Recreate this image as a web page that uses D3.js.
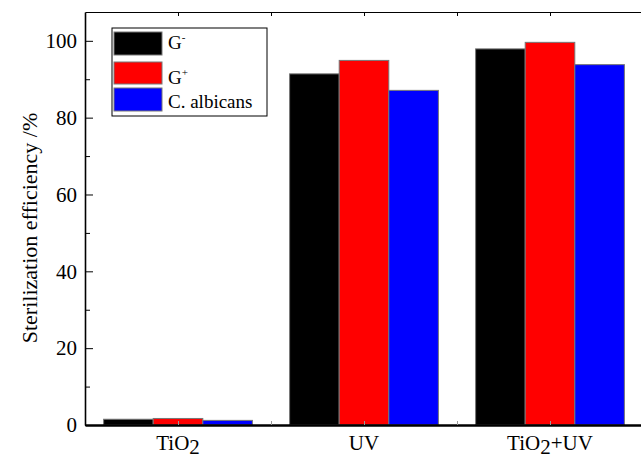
<!DOCTYPE html>
<html>
<head>
<meta charset="utf-8">
<script src="https://cdn.jsdelivr.net/npm/d3@7"></script>
</head>
<body style="margin:0">
<svg id="chart" width="641" height="455"></svg>
<script>
// categories and series
var categories = ["TiO2", "UV", "TiO2+UV"];
var seriesNames = ["G-", "G+", "C. albicans"];
var seriesColors = ["#000000", "#ff0000", "#0000ff"];
// values (%)
var gNeg = [1.5, 91.4, 97.9];
var gPos = [1.7, 94.9, 99.6];
var cAlb = [1.2, 87.1, 93.8];
var yTicks = [0, 20, 40, 60, 80, 100];
var yMinor = [10, 30, 50, 70, 90];

var serif = "Liberation Serif";
var svg = d3.select("#chart");

// scales
var x = d3.scaleLinear().domain([0.5, 3.5]).range([85, 643]);
var y = d3.scaleLinear().domain([0, 107.5]).range([425, 12]);

var groupW = 0.8;
var barW = groupW / 3;
var seriesData = [gNeg, gPos, cAlb];

// bars
seriesData.forEach(function(vals, j) {
  svg.append("g")
    .selectAll("rect")
    .data(vals)
    .enter()
    .append("rect")
    .attr("x", function(d, i) { return x(i + 1 - groupW / 2 + j * barW); })
    .attr("y", function(d) { return y(d); })
    .attr("width", x(barW) - x(0))
    .attr("height", function(d) { return y(0) - y(d); })
    .attr("fill", seriesColors[j])
    .attr("stroke", "#777")
    .attr("stroke-width", 1);
});

// left axis
var yAxis = d3.axisLeft(y)
  .tickValues(yTicks)
  .tickSizeInner(-8)
  .tickSizeOuter(0)
  .tickPadding(8)
  .tickFormat(d3.format("d"));
var gy = svg.append("g")
  .attr("transform", "translate(" + x(0.5) + ",0)")
  .call(yAxis);
gy.select(".domain").attr("stroke-width", 1.6);
gy.selectAll("text")
  .attr("font-family", serif)
  .attr("font-size", 21)
  .attr("fill", "#000");

var yAxisMinor = d3.axisLeft(y)
  .tickValues(yMinor)
  .tickSizeInner(-5)
  .tickSizeOuter(0)
  .tickFormat("");
svg.append("g")
  .attr("transform", "translate(" + x(0.5) + ",0)")
  .call(yAxisMinor)
  .select(".domain").remove();

// bottom axis
var xTickVals = [1, 1.5, 2, 2.5, 3, 3.5];
var xAxisB = d3.axisBottom(x)
  .tickValues(xTickVals)
  .tickSizeInner(-4)
  .tickSizeOuter(0)
  .tickFormat("");
var gx = svg.append("g")
  .attr("transform", "translate(0," + y(0) + ")")
  .call(xAxisB);
gx.select(".domain").attr("stroke-width", 2.5);
gx.selectAll(".tick line").attr("stroke", "#999");

// top axis
var xAxisT = d3.axisTop(x)
  .tickValues(xTickVals)
  .tickSizeInner(-4)
  .tickSizeOuter(0)
  .tickFormat("");
var gt = svg.append("g")
  .attr("transform", "translate(0," + y(107.5) + ")")
  .call(xAxisT);
gt.select(".domain").attr("stroke-width", 1.2);

// category labels with subscripts
categories.forEach(function(c, i) {
  var t = svg.append("text")
    .attr("x", x(i + 1))
    .attr("y", 450)
    .attr("text-anchor", "middle")
    .attr("font-family", serif)
    .attr("font-size", 21);
  var parts = c.split("2");
  if (parts.length > 1) {
    t.append("tspan").text(parts[0]);
    t.append("tspan").attr("dy", 4).text("2");
    t.append("tspan").attr("dy", -4).text(parts[1]);
  }
  else {
    t.text(c);
  }
});

// y title
svg.append("text")
  .attr("transform", "translate(37,228) rotate(-90)")
  .attr("text-anchor", "middle")
  .attr("font-family", serif)
  .attr("font-size", 22)
  .text("Sterilization efficiency /%");

// legend
var legend = svg.append("g").attr("transform", "translate(112,28)");
legend.append("rect")
  .attr("width", 155)
  .attr("height", 88)
  .attr("fill", "#fff")
  .attr("stroke", "#000")
  .attr("stroke-width", 1);
var rowY = [4, 34, 60];
var rowH = [23, 22, 23];
var rowBase = [21, 56, 80];
seriesNames.forEach(function(name, j) {
  legend.append("rect")
    .attr("x", 2)
    .attr("y", rowY[j])
    .attr("width", 48)
    .attr("height", rowH[j])
    .attr("fill", seriesColors[j])
    .attr("stroke", "#777");
  var t = legend.append("text")
    .attr("x", 56)
    .attr("y", rowBase[j])
    .attr("font-family", serif)
    .attr("font-size", 19);
  if (j < 2) {
    t.append("tspan").text("G");
    t.append("tspan")
      .attr("dy", -8)
      .attr("font-size", 11)
      .text(j === 0 ? "-" : "+");
  }
  else {
    t.text(name);
  }
});
</script>
</body>
</html>
